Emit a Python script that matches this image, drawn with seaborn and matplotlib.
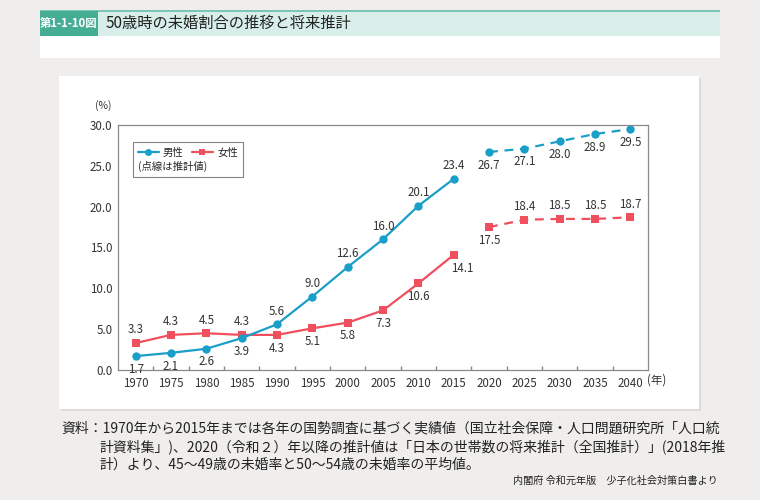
import matplotlib
matplotlib.use("Agg")
import matplotlib.pyplot as plt
from matplotlib.patches import Rectangle
from matplotlib.lines import Line2D
import seaborn as sns
import pandas as pd
import numpy as np

sns.set_theme(style="white")
plt.rcParams['font.family'] = ['Noto Sans CJK JP', 'DejaVu Sans']

# ---- data ----
years_actual = [1970, 1975, 1980, 1985, 1990, 1995, 2000, 2005, 2010, 2015]
years_proj = [2020, 2025, 2030, 2035, 2040]
male_actual = [1.7, 2.1, 2.6, 3.9, 5.6, 9.0, 12.6, 16.0, 20.1, 23.4]
male_proj = [26.7, 27.1, 28.0, 28.9, 29.5]
female_actual = [3.3, 4.3, 4.5, 4.3, 4.3, 5.1, 5.8, 7.3, 10.6, 14.1]
female_proj = [17.5, 18.4, 18.5, 18.5, 18.7]
all_years = years_actual + years_proj
y_ticks = [0, 5, 10, 15, 20, 25, 30]

# label placement: +1 above, -1 below
male_pos = [-1, -1, -1, -1, 1, 1, 1, 1, 1, 1, -1, -1, -1, -1, -1]
female_pos = [1, 1, 1, 1, -1, -1, -1, -1, -1, -1, -1, 1, 1, 1, 1]

BLUE = "#1a9fc9"
RED = "#f0505e"
BG = "#efeeec"

fig = plt.figure(figsize=(7.6, 5.0), dpi=100)
fig.patch.set_facecolor(BG)

def fx(px):
    return px / 760.0

def fy(py):
    return 1 - py / 500.0

def rect(x0, y_top, w, h, color, z):
    fig.patches.append(Rectangle((fx(x0), fy(y_top + h)), fx(w), h / 500, transform=fig.transFigure,
                                 facecolor=color, edgecolor="none", zorder=z))

# header band
rect(40, 36, 680, 22, "white", -5)
rect(40, 11, 680, 25, "#d7eee9", -5)
rect(40, 10.5, 680, 1.5, "#7cc4b3", -4)
rect(40, 11, 58, 25, "#45ad94", -4)
fig.text(fx(69), fy(23.5), "第1-1-10図", color="white", fontsize=8.2, fontweight="bold",
         ha="center", va="center", zorder=10)
fig.text(fx(106), fy(23.5), "50歳時の未婚割合の推移と将来推計", color="#222222", fontsize=11,
         ha="left", va="center", zorder=10)

# chart panel with shadow
rect(61, 78, 640, 333, "#dcdbd9", -5)
rect(59, 76, 640, 333, "white", -4)

ax = fig.add_axes([fx(118), fy(370), fx(648 - 118), (370 - 125) / 500])
ax.set_zorder(5)
ax.set_facecolor("white")

df_ma = pd.DataFrame({"year": years_actual, "v": male_actual})
df_mp = pd.DataFrame({"year": years_proj, "v": male_proj})
df_fa = pd.DataFrame({"year": years_actual, "v": female_actual})
df_fp = pd.DataFrame({"year": years_proj, "v": female_proj})

kw = dict(x="year", y="v", ax=ax, linewidth=1.6, markersize=6, markeredgewidth=0)
sns.lineplot(data=df_fa, color=RED, marker="s", **kw)
sns.lineplot(data=df_fp, color=RED, marker="s", linestyle=(0, (4, 3)), **kw)
sns.lineplot(data=df_ma, color=BLUE, marker="o", **kw)
sns.lineplot(data=df_mp, color=BLUE, marker="o", linestyle=(0, (4, 3)), **kw)

male_all = male_actual + male_proj
female_all = female_actual + female_proj
for yr, v, p in zip(all_years, male_all, male_pos):
    ax.annotate(f"{v:.1f}", (yr, v), xytext=(0, 9.5 * p), textcoords="offset points",
                ha="center", va="center", fontsize=8.3, color="#333333")
for yr, v, p in zip(all_years, female_all, female_pos):
    dx = 6 if yr == 2015 else 0
    ax.annotate(f"{v:.1f}", (yr, v), xytext=(dx, 9.5 * p), textcoords="offset points",
                ha="center", va="center", fontsize=8.3, color="#333333")

ax.set_xlim(1967.5, 2042.5)
ax.set_ylim(0, 30)
ax.set_yticks(y_ticks)
ax.set_yticklabels([f"{t:.1f}" for t in y_ticks])
ax.set_xticks(all_years)
ax.set_xticklabels([str(y) for y in all_years])
ax.set_xticks(np.arange(1972.5, 2040, 5), minor=True)
ax.tick_params(axis="x", which="major", length=0, labelsize=8.3, pad=5, colors="#333333")
ax.tick_params(axis="x", which="minor", length=3, direction="in", color="#888888", bottom=True)
ax.tick_params(axis="y", length=0, labelsize=8.3, pad=4, colors="#333333")
ax.set_xlabel("")
ax.set_ylabel("")
for s in ax.spines.values():
    s.set_color("#8a8a8a")
    s.set_linewidth(0.9)
ax.grid(False)

fig.text(fx(103), fy(106), "(%)", fontsize=7.5, ha="center", va="center", color="#333333", zorder=10)
fig.text(fx(647), fy(380), "(年)", fontsize=8.3, ha="left", va="center", color="#333333", zorder=10)

handles = [Line2D([], [], color=BLUE, marker="o", markersize=5, lw=1.6, markeredgewidth=0),
           Line2D([], [], color=RED, marker="s", markersize=5, lw=1.6, markeredgewidth=0)]
leg = ax.legend(handles, ["男性", "女性"], ncol=2, loc="upper left", bbox_to_anchor=(0.018, 0.95),
                title="(点線は推計値)", alignment="left", fontsize=7.5, title_fontsize=7.5,
                frameon=True, fancybox=False, handlelength=2.0, columnspacing=0.8,
                handletextpad=0.4, borderpad=0.5, labelspacing=0.3)
leg.get_frame().set_edgecolor("#666666")
leg.get_frame().set_linewidth(0.8)
box = leg._legend_box
box._children = box._children[::-1]

notes = ["資料：1970年から2015年までは各年の国勢調査に基づく実績値（国立社会保障・人口問題研究所「人口統",
         "計資料集」)、2020（令和２）年以降の推計値は「日本の世帯数の将来推計（全国推計）」(2018年推",
         "計）より、45～49歳の未婚率と50～54歳の未婚率の平均値。"]
fig.text(fx(61), fy(428), notes[0], fontsize=10, ha="left", va="center", color="#222222", zorder=10)
fig.text(fx(100), fy(447), notes[1], fontsize=10, ha="left", va="center", color="#222222", zorder=10)
fig.text(fx(100), fy(465), notes[2], fontsize=10, ha="left", va="center", color="#222222", zorder=10)
fig.text(fx(718), fy(481), "内閣府 令和元年版　少子化社会対策白書より", fontsize=7.3,
         ha="right", va="center", color="#222222", zorder=10)

fig.savefig("out.png", dpi=100, facecolor=fig.get_facecolor())
